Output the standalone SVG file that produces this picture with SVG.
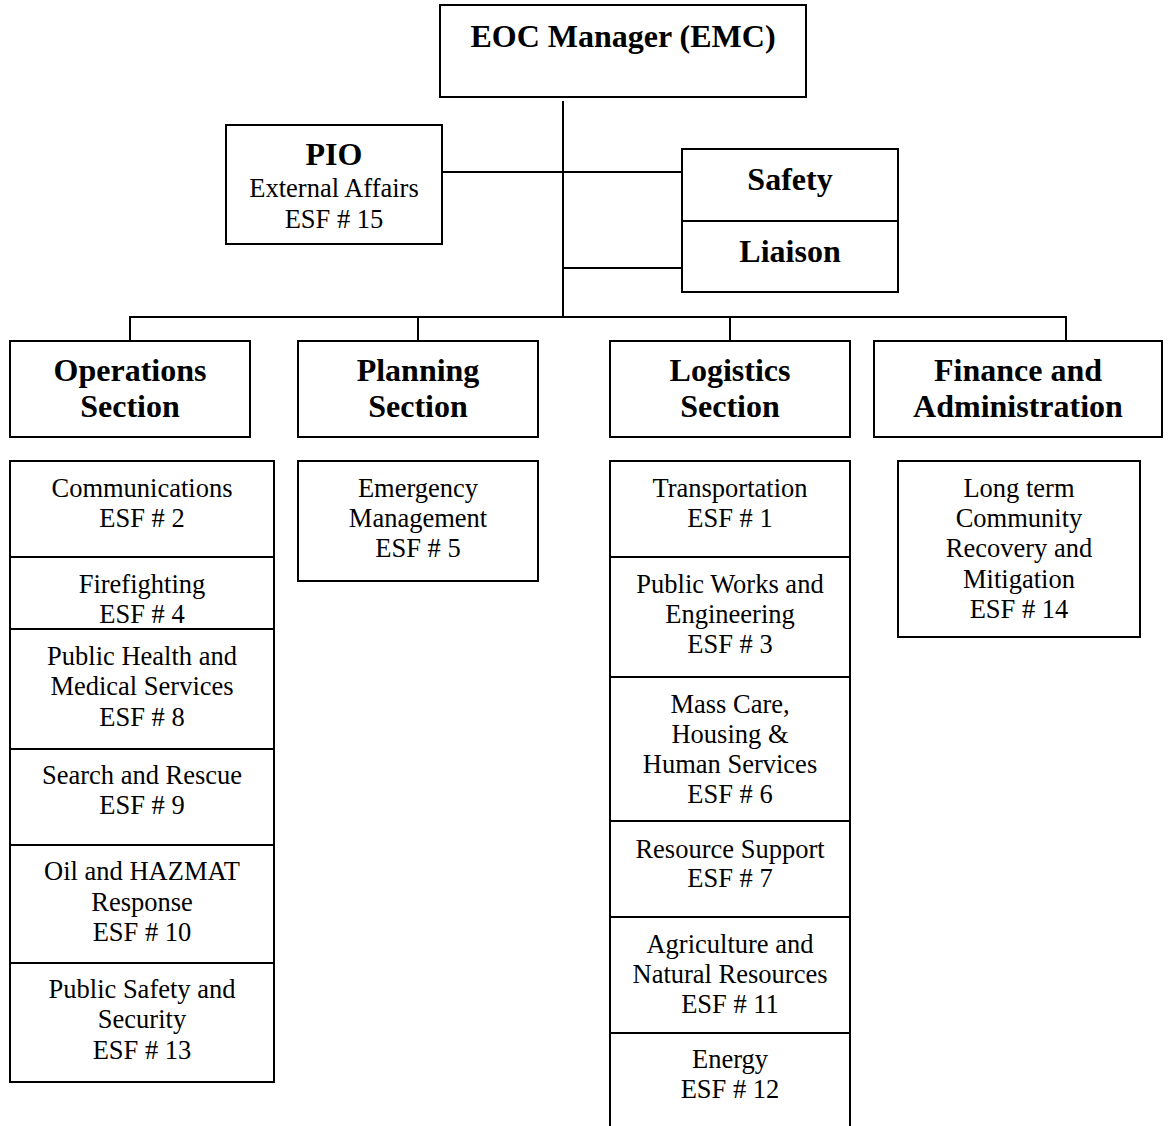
<svg xmlns="http://www.w3.org/2000/svg" width="1168" height="1126" viewBox="0 0 1168 1126">
<style>
.box{fill:#fff;stroke:#000;stroke-width:2}
.ln{stroke:#000;stroke-width:2;fill:none}
.b{font-family:"Liberation Serif","Times New Roman",serif;font-weight:bold;font-size:32px;text-anchor:middle;fill:#000}
.r{font-family:"Liberation Serif","Times New Roman",serif;font-size:26.5px;text-anchor:middle;fill:#000}
</style>
<rect width="1168" height="1126" fill="#fff"/>
<g id="connectors">
<line class="ln" x1="563" y1="101" x2="563" y2="317"/>
<line class="ln" x1="442" y1="172" x2="682" y2="172"/>
<line class="ln" x1="563" y1="268" x2="682" y2="268"/>
<line class="ln" x1="129" y1="317" x2="1067" y2="317"/>
<line class="ln" x1="130" y1="317" x2="130" y2="341"/>
<line class="ln" x1="418" y1="317" x2="418" y2="341"/>
<line class="ln" x1="730" y1="317" x2="730" y2="341"/>
<line class="ln" x1="1066" y1="317" x2="1066" y2="341"/>
</g>
<g id="eoc">
<rect class="box" x="440" y="5" width="366" height="92"/>
<text class="b" x="623" y="47">EOC Manager (EMC)</text>
</g>
<g id="pio">
<rect class="box" x="226" y="125" width="216" height="119"/>
<text class="b" x="334" y="165">PIO</text>
<text class="r" x="334" y="197">External Affairs</text>
<text class="r" x="334" y="228">ESF # 15</text>
</g>
<g id="safety-liaison">
<rect class="box" x="682" y="149" width="216" height="143"/>
<line class="ln" x1="682" y1="221" x2="898" y2="221"/>
<text class="b" x="790" y="190">Safety</text>
<text class="b" x="790" y="262">Liaison</text>
</g>
<g id="operations">
<rect class="box" x="10" y="341" width="240" height="96"/>
<text class="b" x="130" y="381">Operations</text>
<text class="b" x="130" y="417">Section</text>
</g>
<g id="planning">
<rect class="box" x="298" y="341" width="240" height="96"/>
<text class="b" x="418" y="381">Planning</text>
<text class="b" x="418" y="417">Section</text>
</g>
<g id="logistics">
<rect class="box" x="610" y="341" width="240" height="96"/>
<text class="b" x="730" y="381">Logistics</text>
<text class="b" x="730" y="417">Section</text>
</g>
<g id="finance">
<rect class="box" x="874" y="341" width="288" height="96"/>
<text class="b" x="1018" y="381">Finance and</text>
<text class="b" x="1018" y="417">Administration</text>
</g>
<g id="operations-esf">
<rect class="box" x="10" y="461" width="264" height="621"/>
<line class="ln" x1="10" y1="557" x2="274" y2="557"/>
<line class="ln" x1="10" y1="629" x2="274" y2="629"/>
<line class="ln" x1="10" y1="749" x2="274" y2="749"/>
<line class="ln" x1="10" y1="845" x2="274" y2="845"/>
<line class="ln" x1="10" y1="963" x2="274" y2="963"/>
<text class="r" x="142" y="497">Communications</text>
<text class="r" x="142" y="527">ESF # 2</text>
<text class="r" x="142" y="593">Firefighting</text>
<text class="r" x="142" y="623">ESF # 4</text>
<text class="r" x="142" y="665">Public Health and</text>
<text class="r" x="142" y="695">Medical Services</text>
<text class="r" x="142" y="726">ESF # 8</text>
<text class="r" x="142" y="784">Search and Rescue</text>
<text class="r" x="142" y="814">ESF # 9</text>
<text class="r" x="142" y="880">Oil and HAZMAT</text>
<text class="r" x="142" y="911">Response</text>
<text class="r" x="142" y="941">ESF # 10</text>
<text class="r" x="142" y="998">Public Safety and</text>
<text class="r" x="142" y="1028">Security</text>
<text class="r" x="142" y="1059">ESF # 13</text>
</g>
<g id="planning-esf">
<rect class="box" x="298" y="461" width="240" height="120"/>
<text class="r" x="418" y="497">Emergency</text>
<text class="r" x="418" y="527">Management</text>
<text class="r" x="418" y="557">ESF # 5</text>
</g>
<g id="logistics-esf">
<rect class="box" x="610" y="461" width="240" height="680"/>
<line class="ln" x1="610" y1="557" x2="850" y2="557"/>
<line class="ln" x1="610" y1="677" x2="850" y2="677"/>
<line class="ln" x1="610" y1="821" x2="850" y2="821"/>
<line class="ln" x1="610" y1="917" x2="850" y2="917"/>
<line class="ln" x1="610" y1="1033" x2="850" y2="1033"/>
<text class="r" x="730" y="497">Transportation</text>
<text class="r" x="730" y="527">ESF # 1</text>
<text class="r" x="730" y="593">Public Works and</text>
<text class="r" x="730" y="623">Engineering</text>
<text class="r" x="730" y="653">ESF # 3</text>
<text class="r" x="730" y="713">Mass Care,</text>
<text class="r" x="730" y="743">Housing &amp;</text>
<text class="r" x="730" y="773">Human Services</text>
<text class="r" x="730" y="803">ESF # 6</text>
<text class="r" x="730" y="858">Resource Support</text>
<text class="r" x="730" y="887">ESF # 7</text>
<text class="r" x="730" y="953">Agriculture and</text>
<text class="r" x="730" y="983">Natural Resources</text>
<text class="r" x="730" y="1013">ESF # 11</text>
<text class="r" x="730" y="1068">Energy</text>
<text class="r" x="730" y="1098">ESF # 12</text>
</g>
<g id="finance-esf">
<rect class="box" x="898" y="461" width="242" height="176"/>
<text class="r" x="1019" y="497">Long term</text>
<text class="r" x="1019" y="527">Community</text>
<text class="r" x="1019" y="557">Recovery and</text>
<text class="r" x="1019" y="588">Mitigation</text>
<text class="r" x="1019" y="618">ESF # 14</text>
</g>
</svg>
